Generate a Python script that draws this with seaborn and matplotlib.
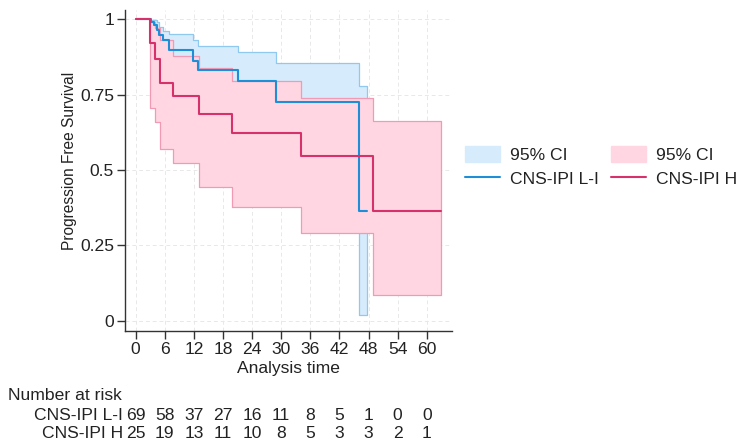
import numpy as np
import pandas as pd
import matplotlib
matplotlib.use("Agg")
import matplotlib.pyplot as plt
import matplotlib.transforms as mtransforms
from matplotlib.patches import Patch
from matplotlib.lines import Line2D
import seaborn as sns

# ---- data ----
# CNS-IPI L-I : Kaplan-Meier step curve
li_time = [0, 3.2, 3.7, 4.3, 4.9, 5.6, 6.9, 11.8, 12.9, 21.0, 28.9, 46.0, 47.7]
li_surv = [1.0, 0.99, 0.98, 0.963, 0.948, 0.93, 0.899, 0.862, 0.832, 0.796, 0.727, 0.364, 0.364]
li_ci_time = [3.2, 4.3, 4.9, 5.6, 6.9, 11.8, 12.9, 21.0, 28.9, 46.0, 47.7]
li_ci_upper = [0.998, 0.99, 0.975, 0.96, 0.95, 0.93, 0.91, 0.89, 0.856, 0.779, 0.779]
li_ci_lower = [0.93, 0.90, 0.87, 0.85, 0.80, 0.77, 0.74, 0.70, 0.60, 0.018, 0.018]

# CNS-IPI H : Kaplan-Meier step curve
h_time = [0, 3.0, 4.06, 5.1, 7.7, 13.0, 19.9, 34.0, 48.9, 62.9]
h_surv = [1.0, 0.922, 0.87, 0.79, 0.745, 0.687, 0.624, 0.547, 0.364, 0.364]
h_ci_time = [3.0, 4.06, 5.1, 7.7, 13.0, 19.9, 34.0, 48.9, 62.9]
h_ci_upper = [0.99, 0.97, 0.93, 0.88, 0.837, 0.797, 0.74, 0.663, 0.663]
h_ci_lower = [0.705, 0.658, 0.57, 0.522, 0.443, 0.376, 0.292, 0.085, 0.085]

x_ticks = [0, 6, 12, 18, 24, 30, 36, 42, 48, 54, 60]
y_ticks = [0, 0.25, 0.5, 0.75, 1]
y_ticklabels = ["0", "0.25", "0.5", "0.75", "1"]

risk_groups = ["CNS-IPI L-I", "CNS-IPI H"]
risk_li = [69, 58, 37, 27, 16, 11, 8, 5, 1, 0, 0]
risk_h = [25, 19, 13, 11, 10, 8, 5, 3, 3, 2, 1]

# ---- style ----
sns.set_style("ticks")
plt.rcParams["font.family"] = ["Liberation Sans", "DejaVu Sans"]
FS = 12.6
FS_YLAB = 11.2

blue_line = "#1e8ed6"
blue_fill = "#d6ebfb"
blue_edge = "#8fc9ef"
pink_line = "#d6316b"
pink_fill = "#ffd6e1"
pink_edge = "#f29ab4"
txt = "#222222"

fig = plt.figure(figsize=(7.37, 4.48), dpi=100)
ax = fig.add_axes([125 / 737, 1 - 331 / 448, (452 - 125) / 737, (331 - 10) / 448])

# grid
for xt in x_ticks:
    ax.axvline(xt, color="#e8e8e8", lw=0.7, ls=(0, (4, 3)), zorder=0)
for yt in y_ticks:
    ax.axhline(yt, color="#e8e8e8", lw=0.7, ls=(0, (4, 3)), zorder=0)

# CI bands
ax.fill_between(li_ci_time, li_ci_lower, li_ci_upper, step="post",
                facecolor=blue_fill, edgecolor=blue_edge, linewidth=0.9, zorder=1)
ax.fill_between(h_ci_time, h_ci_lower, h_ci_upper, step="post",
                facecolor=pink_fill, edgecolor=pink_edge, linewidth=0.9, zorder=2)

# KM curves
df_li = pd.DataFrame({"time": li_time, "surv": li_surv})
df_h = pd.DataFrame({"time": h_time, "surv": h_surv})
sns.lineplot(data=df_li, x="time", y="surv", ax=ax, color=blue_line, lw=1.5,
             drawstyle="steps-post", estimator=None, sort=False, zorder=3)
sns.lineplot(data=df_h, x="time", y="surv", ax=ax, color=pink_line, lw=1.5,
             drawstyle="steps-post", estimator=None, sort=False, zorder=4)

ax.set_xlim(-2.2, 65.2)
ax.set_ylim(-0.034, 1.031)
ax.set_xticks(x_ticks)
ax.set_xticklabels([str(v) for v in x_ticks], fontsize=FS, color=txt)
ax.set_yticks(y_ticks)
ax.set_yticklabels(y_ticklabels, fontsize=FS, color=txt)
ax.tick_params(axis="both", length=6, width=1, color="#333333", pad=2)
for s in ["top", "right"]:
    ax.spines[s].set_visible(False)
for s in ["left", "bottom"]:
    ax.spines[s].set_color("#333333")
    ax.spines[s].set_linewidth(1)
ax.set_xlabel("Analysis time", fontsize=FS, color=txt, labelpad=3)
ax.set_ylabel("Progression Free Survival", fontsize=FS_YLAB, color=txt, labelpad=2)
ax.yaxis.label.set_y(0.53)

# legend: two columns placed separately
leg_kw = dict(loc="upper left", frameon=False, borderpad=0, borderaxespad=0,
              fontsize=FS, handlelength=2.0, handleheight=1.05, handletextpad=0.55,
              labelspacing=0.4, labelcolor=txt)
leg1 = fig.legend([Patch(facecolor=blue_fill, edgecolor=blue_fill),
                   Line2D([0], [0], color=blue_line, lw=1.5)],
                  ["95% CI", "CNS-IPI L-I"],
                  bbox_to_anchor=(465 / 737, 1 - 146 / 448), **leg_kw)
leg2 = fig.legend([Patch(facecolor=pink_fill, edgecolor=pink_fill),
                   Line2D([0], [0], color=pink_line, lw=1.5)],
                  ["95% CI", "CNS-IPI H"],
                  bbox_to_anchor=(611 / 737, 1 - 146 / 448), **leg_kw)

# number at risk table
trans = mtransforms.blended_transform_factory(ax.transData, fig.transFigure)
fig.text(8 / 737, 1 - 395 / 448, "Number at risk", fontsize=FS, color=txt,
         ha="left", va="center")
rows = [risk_li, risk_h]
row_y = [415, 433]
for name, vals, yy in zip(risk_groups, rows, row_y):
    fig.text(123 / 737, 1 - yy / 448, name, fontsize=FS, color=txt,
             ha="right", va="center")
    for xt, v in zip(x_ticks, vals):
        ax.text(xt, 1 - yy / 448, str(v), transform=trans, fontsize=FS,
                color=txt, ha="center", va="center", clip_on=False)

fig.savefig("out.png", dpi=100, facecolor="white")
